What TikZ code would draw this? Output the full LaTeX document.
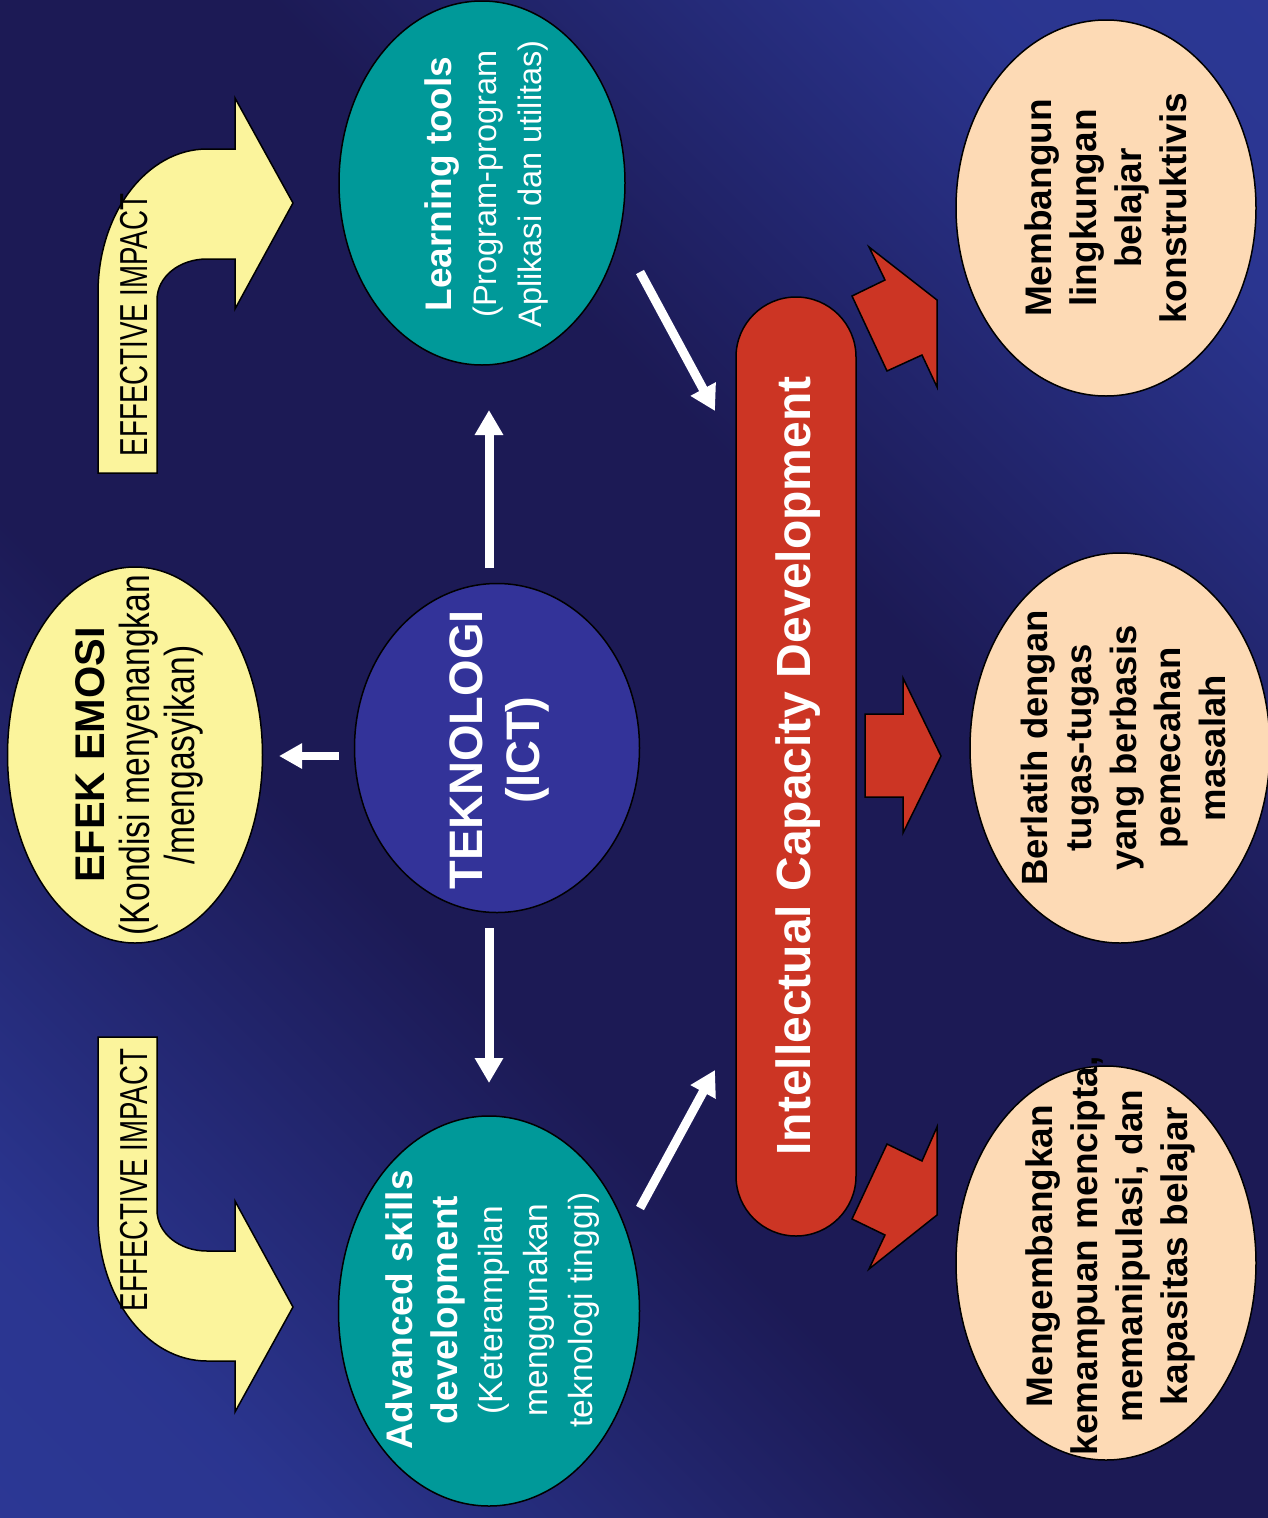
\documentclass[tikz,border=0pt]{standalone}
\usepackage{fontspec}
\setmainfont{Liberation Sans}
\newfontfamily\narrowfont[FakeStretch=0.8]{Liberation Sans}
\newfontfamily\condfont[FakeStretch=0.71]{Liberation Sans}
\usetikzlibrary{shapes.geometric,arrows.meta}
\definecolor{bgdark}{HTML}{1C1A55}
\definecolor{bgblue}{HTML}{2E3C9E}
\definecolor{yel}{HTML}{FBF49C}
\definecolor{teal}{HTML}{009999}
\definecolor{ictblue}{HTML}{333399}
\definecolor{redc}{HTML}{CC3524}
\definecolor{peach}{HTML}{FDDAB5}
\pgfdeclarehorizontalshading{bgshade}{100bp}{color(0bp)=(bgblue); color(22bp)=(bgblue!80!bgdark); color(40bp)=(bgdark); color(60bp)=(bgdark); color(78bp)=(bgblue!80!bgdark); color(100bp)=(bgblue)}
\tikzset{
  ell/.style={ellipse, draw=black, line width=1.5pt, inner sep=0pt},
  rtext/.style={rotate=90, align=center, inner sep=0pt},
  yarrow/.style={fill=yel, draw=black, line width=1.5pt, line join=miter},
  rarrow/.style={fill=redc, draw=black, line width=1.5pt, line join=miter},
  warrow/.style={draw=white, line width=9pt, -{Triangle[length=25pt,width=27pt]}},
}
\begin{document}
\begin{tikzpicture}[x=1pt,y=-1pt]
\shade[shading=bgshade, shading angle=45] (0,0) rectangle (1268,1518);
\useasboundingbox (0,0) rectangle (1268,1518);

% yellow curved arrows
\path[yarrow] (98,473) -- (98,293) .. controls (98,213) and (147,149) .. (207,149)
  -- (235,149) -- (235,98) -- (293,203) -- (235,309) -- (235,259) -- (207,259)
  .. controls (179,259) and (157,277) .. (157,300) -- (157,473) -- cycle;
\path[yarrow] (98,1037) -- (98,1217) .. controls (98,1297) and (147,1361) .. (207,1361)
  -- (235,1361) -- (235,1412) -- (293,1307) -- (235,1201) -- (235,1251) -- (207,1251)
  .. controls (179,1251) and (157,1233) .. (157,1210) -- (157,1037) -- cycle;
\node[rtext, font=\condfont\fontsize{39}{40}\selectfont] (ei1) at (134,325) {EFFECTIVE IMPACT};
\node[rtext, font=\condfont\fontsize{39}{40}\selectfont] (ei2) at (134,1180) {EFFECTIVE IMPACT};

% ellipses
\node[ell, fill=yel, minimum width=255pt, minimum height=376pt] (efek) at (135,755) {};
\node[rtext, text=black, font=\fontsize{42}{45}\selectfont] (efekt) at (139,755) {%
  {\bfseries\fontsize{41.5}{45}\selectfont EFEK EMOSI}\\
  {\narrowfont (Kondisi menyenangkan}\\
  {\narrowfont /mengasyikan)}};

\node[ell, fill=ictblue, minimum width=285pt, minimum height=329pt] (ict) at (497,748) {};
\node[rtext, text=white, font=\bfseries\fontsize{47}{57}\selectfont] (ictt) at (499,750) {TEKNOLOGI\\(ICT)};

\node[ell, fill=teal, minimum width=286pt, minimum height=364pt] (learn) at (482,183) {};
\node[rtext, text=white, font=\fontsize{32.5}{45}\selectfont] (learnt) at (486,184) {%
  {\bfseries\fontsize{37}{45}\selectfont Learning tools}\\
  (Program-program\\
  Aplikasi dan utilitas)};

\node[ell, fill=teal, minimum width=301pt, minimum height=390pt] (adv) at (489,1311) {};
\node[rtext, text=white, font=\fontsize{33.5}{45}\selectfont] (advt) at (493,1310) {%
  {\bfseries\fontsize{37}{45}\selectfont Advanced skills}\\
  {\bfseries\fontsize{37}{45}\selectfont development}\\
  (Keterampilan\\
  menggunakan\\
  teknologi tinggi)};

\node[ell, fill=peach, minimum width=300pt, minimum height=376pt] (p1) at (1106,208) {};
\node[rtext, text=black, font=\bfseries\fontsize{37}{45}\selectfont] (p1t) at (1106,208)
  {Membangun\\lingkungan\\belajar\\konstruktivis};
\node[ell, fill=peach, minimum width=300pt, minimum height=390pt] (p2) at (1120,748) {};
\node[rtext, text=black, font=\bfseries\fontsize{36.5}{44.5}\selectfont] (p2t) at (1123,748)
  {Berlatih dengan\\tugas-tugas\\yang berbasis\\pemecahan\\masalah};
\node[ell, fill=peach, minimum width=300pt, minimum height=394pt] (p3) at (1106,1263) {};
\node[rtext, text=black, font=\bfseries\fontsize{37}{45}\selectfont] (p3t) at (1110,1256)
  {Mengembangkan\\kemampuan mencipta,\\memanipulasi, dan\\kapasitas belajar};

% red rounded bar
\node[draw=black, line width=1.5pt, fill=redc, rounded corners=60pt, minimum width=120pt,
  minimum height=939pt, inner sep=0pt] (icd) at (796,766.5) {};
\node[rtext, text=white, font=\bfseries\fontsize{48}{50}\selectfont] (icdt) at (798,766) {Intellectual Capacity Development};

% red block arrows
\path[rarrow] (852,296) -- (885,280) -- (869,247) -- (937,300) -- (937,387) -- (922,355) -- (887,371) -- cycle;
\path[rarrow] (865,714) -- (903,714) -- (903,678) -- (941,756) -- (903,833) -- (903,797) -- (865,797) -- cycle;
\path[rarrow] (852,1219) -- (887,1144) -- (922,1161) -- (937,1127) -- (937,1215) -- (869,1269) -- (885,1235) -- cycle;

% white arrows
\coordinate (a1s) at (489,568); \coordinate (a1e) at (489,410);
\coordinate (a2s) at (489,928); \coordinate (a2e) at (489,1083);
\coordinate (a3s) at (339,756); \coordinate (a3e) at (279,756);
\coordinate (a4s) at (640,272); \coordinate (a4e) at (715,411);
\coordinate (a5s) at (640,1208); \coordinate (a5e) at (715,1070);
\draw[warrow] (a1s) -- (a1e);
\draw[warrow] (a2s) -- (a2e);
\draw[warrow, line width=8pt, -{Triangle[length=23pt,width=24pt]}] (a3s) -- (a3e);
\draw[warrow] (a4s) -- (a4e);
\draw[warrow] (a5s) -- (a5e);
\end{tikzpicture}
\end{document}
